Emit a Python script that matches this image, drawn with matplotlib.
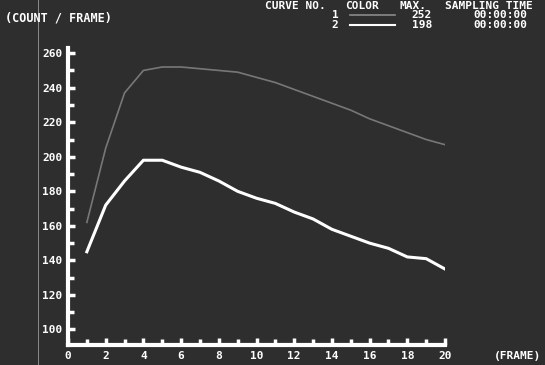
import matplotlib
matplotlib.use("Agg")
import matplotlib.pyplot as plt
from matplotlib.lines import Line2D

frames = list(range(1, 21))
curve1 = [162, 205, 237, 250, 252, 252, 251, 250, 249, 246,
          243, 239, 235, 231, 227, 222, 218, 214, 210, 207]
curve2 = [145, 172, 186, 198, 198, 194, 191, 186, 180, 176,
          173, 168, 164, 158, 154, 150, 147, 142, 141, 135]
x_ticks = list(range(0, 21, 2))
y_ticks = list(range(100, 261, 20))
legend_max = ["252", "198"]

bg = "#2e2e2e"
fig = plt.figure(figsize=(5.45, 3.65), dpi=100, facecolor=bg)
ax = fig.add_axes([68/545, 1-345/365, 377/545, 297/365], facecolor=bg)

ax.plot(frames, curve1, color="#8a8a8a", lw=1.2, alpha=0.8)
ax.plot(frames, curve2, color="white", lw=2.2)

ax.set_xlim(0, 20)
ax.set_ylim(91, 263)
for s in ["top", "right"]:
    ax.spines[s].set_visible(False)
for s in ["left", "bottom"]:
    ax.spines[s].set_color("white")
    ax.spines[s].set_linewidth(3)

ax.set_xticks(x_ticks)
ax.set_xticks(range(0, 21), minor=True)
ax.set_yticks(y_ticks)
ax.set_yticks(range(100, 261, 10), minor=True)
ax.tick_params(which="both", direction="in", color="white", width=2.5,
               labelcolor="white", labelsize=8)
ax.tick_params(which="major", length=5, pad=4)
ax.tick_params(which="minor", length=4)
for lab in ax.get_xticklabels() + ax.get_yticklabels():
    lab.set_fontfamily("DejaVu Sans Mono")
    lab.set_fontweight("bold")

tkw = dict(color="white", fontfamily="DejaVu Sans Mono", fontweight="bold",
           fontsize=8, transform=fig.transFigure)
fig.text(5/545, 1-18/365, "(COUNT / FRAME)", va="center", ha="left",
         **{**tkw, "fontsize": 8.5})
fig.text(265/545, 1-6/365, "CURVE NO.", va="center", ha="left", **tkw)
fig.text(345/545, 1-6/365, "COLOR", va="center", ha="left", **tkw)
fig.text(400/545, 1-6/365, "MAX.", va="center", ha="left", **tkw)
fig.text(445/545, 1-6/365, "SAMPLING TIME", va="center", ha="left", **tkw)
fig.text(335/545, 1-15/365, "1", va="center", ha="center", **tkw)
fig.text(335/545, 1-25/365, "2", va="center", ha="center", **tkw)
fig.add_artist(Line2D([350/545, 395/545], [1-15/365, 1-15/365],
                      color="#8a8a8a", lw=1.2, transform=fig.transFigure))
fig.add_artist(Line2D([350/545, 395/545], [1-25/365, 1-25/365],
                      color="white", lw=1.5, transform=fig.transFigure))
fig.text(422/545, 1-15/365, legend_max[0], va="center", ha="center", **tkw)
fig.text(422/545, 1-25/365, legend_max[1], va="center", ha="center", **tkw)
fig.text(500/545, 1-15/365, "00:00:00", va="center", ha="center", **tkw)
fig.text(500/545, 1-25/365, "00:00:00", va="center", ha="center", **tkw)
fig.text(518/545, 1-356/365, "(FRAME)", va="center", ha="center", **tkw)

fig.add_artist(Line2D([38/545, 38/545], [0, 1], color="#9a9a9a", lw=0.6,
                      transform=fig.transFigure))

fig.savefig("out.png", dpi=100, facecolor=bg)
